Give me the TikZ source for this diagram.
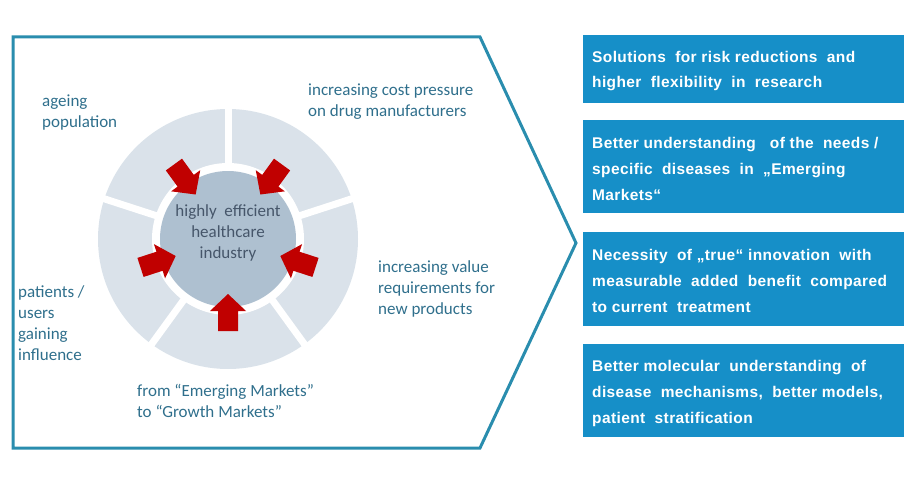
\documentclass[tikz,border=0pt]{standalone}
\usepackage{fontspec}
\setmainfont{Carlito}
\newfontfamily\boxfont[LetterSpace=2.5]{Liberation Sans}
\usetikzlibrary{calc}
\definecolor{chevcol}{HTML}{2A8DAE}
\definecolor{ringcol}{HTML}{DAE2EA}
\definecolor{corecol}{HTML}{AEC0D0}
\definecolor{arrowred}{HTML}{C00000}
\definecolor{outtext}{HTML}{2F6F8C}
\definecolor{coretext}{HTML}{46566A}
\definecolor{boxblue}{HTML}{168FC8}
\tikzset{
  chev/.style={draw=chevcol, line width=3pt, line join=miter},
  outlabel/.style={anchor=base west, inner sep=0pt, align=left, text=outtext,
    font=\fontsize{17}{21}\selectfont},
  corelabel/.style={anchor=base, inner sep=0pt, align=center, text=coretext,
    font=\fontsize{17}{20.7}\selectfont},
  bluebox/.style={fill=boxblue, draw=none, anchor=north west, minimum width=321pt, inner sep=0pt},
  boxtext/.style={anchor=base west, inner sep=0pt, align=left, text=white,
    font=\boxfont\bfseries\fontsize{15.5}{25.7}\selectfont},
  gapline/.style={draw=white, line width=7pt},
  redarrow/.style={fill=arrowred}
}
\begin{document}
\begin{tikzpicture}[x=1pt,y=-1pt]
\useasboundingbox (0,0) rectangle (919,495);
% chevron frame
\draw[chev] (13,37) -- (480,37) -- (576,243) -- (480,448) -- (13,448) -- cycle;
% ring
\coordinate (c) at (228,239);
\fill[ringcol] (c) circle (130);
\foreach \a in {-90,-18,54,126,-162}
  \draw[gapline] (c) -- ($(c)+(\a:136)$);
\fill[white] (c) circle (76);
\fill[corecol] (c) circle (68);
% red arrows
\foreach \a in {-126,-54,18,90,162}
  \fill[redarrow] ($(c)+(\a:55)$) -- ($(c)+(\a:72)+(\a+90:18)$) -- ($(c)+(\a:72)+(\a+90:10)$)
    -- ($(c)+(\a:92)+(\a+90:10)$) -- ($(c)+(\a:92)+(\a-90:10)$) -- ($(c)+(\a:72)+(\a-90:10)$)
    -- ($(c)+(\a:72)+(\a-90:18)$) -- cycle;
% core text (anchor = baseline of last line)
\node[corelabel] (core) at (228,258) {highly\ \ efficient\\healthcare\\industry};
% outer labels (anchor = baseline of last line)
\node[outlabel] (age) at (42,128) {ageing\\population};
\node[outlabel] (cost) at (308,117) {increasing cost pressure\\on drug manufacturers};
\node[outlabel] (value) at (378,314) {increasing value\\requirements for\\new products};
\node[outlabel] (pat) at (18,360) {patients /\\users\\gaining\\influence};
\node[outlabel] (mkt) at (137,417) {from “Emerging Markets”\\to “Growth Markets”};
% right boxes
\node[bluebox, minimum height=68pt] (b1) at (583,35) {};
\node[bluebox, minimum height=93pt] (b2) at (583,120) {};
\node[bluebox, minimum height=94pt] (b3) at (583,232) {};
\node[bluebox, minimum height=93pt] (b4) at (583,344) {};
\node[boxtext] (t1) at (592,88) {Solutions\ \ for risk reductions\ \ and\\higher\ \ flexibility\ \ in\ \ research};
\node[boxtext] (t2) at (592,200) {Better understanding\ \ \ of the\ \ needs /\\specific\ \ diseases\ \ in\ \ „Emerging\\Markets“};
\node[boxtext] (t3) at (592,312) {Necessity\ \ of „true“ innovation\ \ with\\measurable\ \ added\ \ benefit\ \ compared\\to current\ \ treatment};
\node[boxtext] (t4) at (592,423) {Better molecular\ \ understanding\ \ of\\disease\ \ mechanisms,\ \ better models,\\patient\ \ stratification};
\end{tikzpicture}
\end{document}
